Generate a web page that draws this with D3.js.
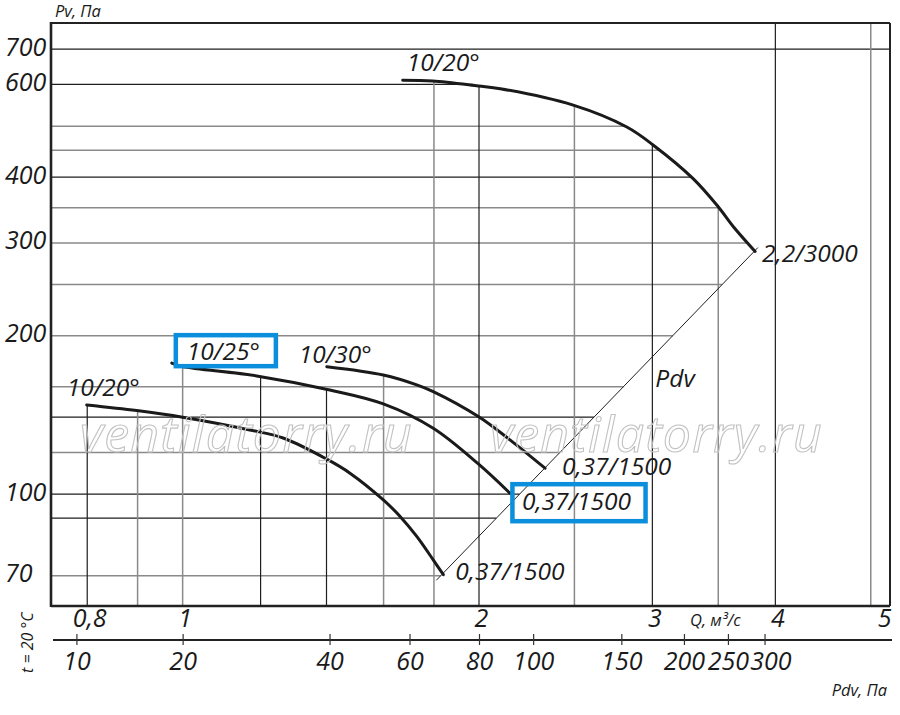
<!DOCTYPE html>
<html>
<head>
<meta charset="utf-8">
<script src="https://cdn.jsdelivr.net/npm/d3@7"></script>
<style>
  body { margin: 0; background: #fff; }
  text { font-family: "Open Sans", sans-serif; font-style: italic; fill: #1a1a1a; }
  .wm { fill: none; stroke: #c2c2c2; stroke-width: 1.1; font-size: 50px; letter-spacing: 1.2px; }
</style>
</head>
<body>
<div class="chart"></div>
<script>
var svgWidth = 900;
var svgHeight = 715;

var margin = { top: 23, right: 10, bottom: 109, left: 51 };
var width = svgWidth - margin.left - margin.right;
var height = svgHeight - margin.top - margin.bottom;

var numFont = "25px";
var labelFont = "24.5px";

// ---- data ----
var qDomain = [0.735, 5.23];   // Q, m3/s (log)
var pDomain = [61.3, 785];     // Pv, Pa (log)

var qTicks = [0.8, 1, 2, 3, 4, 5];
var qTickLabels = ["0,8", "1", "2", "3", "4", "5"];
var qGrid = [0.8, 0.9, 1, 1.2, 1.4, 1.6, 1.8, 2, 2.5, 3, 3.5, 4, 5];
var qGridDark = [0.8, 1.2, 1.4, 2, 3, 4];

var pTicks = [70, 100, 200, 300, 400, 600, 700];
var pGrid = [70, 90, 100, 120, 140, 160, 200, 250, 300, 350, 400, 450, 500, 600, 700];
var pGridDark = [90, 100, 140, 400, 600, 700];

// dynamic pressure scale under the Q axis: each Pdv value and the Q it sits at
var pdvTicks = [10, 20, 40, 60, 80, 100, 150, 200, 250, 300];
var pdvTickQ = [0.78, 1.0, 1.41, 1.70, 2.0, 2.27, 2.79, 3.23, 3.58, 3.90];

// fan curves
var bigQ = [1.673, 1.795, 1.997, 2.102, 2.493, 2.826, 3.007, 3.302, 3.501, 3.626, 3.815];
var bigP = [611, 609, 596, 589, 548, 498, 460, 397, 351, 322, 289];
var lowQ = [0.799, 0.898, 1.0, 1.170, 1.265, 1.401, 1.479, 1.599, 1.663, 1.729, 1.797, 1.840];
var lowP = [147.7, 144.1, 140.0, 132.4, 127.8, 116.5, 109.6, 97.5, 90.7, 83.1, 75.0, 70.3];
var midQ = [0.975, 1.0, 1.189, 1.411, 1.599, 1.797, 1.997, 2.150];
var midP = [177.3, 174.7, 167.7, 157.7, 148.4, 133.4, 114.1, 100.4];
var hiQ = [1.401, 1.599, 1.729, 1.797, 1.997, 2.150, 2.334];
var hiP = [174.6, 168.4, 161.3, 156.6, 140.4, 126.8, 112.0];

var angleLabels = ["10/20°", "10/20°", "10/25°", "10/30°"];
var motorLabels = ["2,2/3000", "0,37/1500", "0,37/1500", "0,37/1500"];

// Pdv line
var pdvLineQ = [1.81, 3.84];
var pdvLineP = [68.6, 294];

var curves = [
  { q: bigQ, p: bigP, name: angleLabels[0], motor: motorLabels[0], nameOff: [4, -9], motorOff: [7, 11] },
  { q: lowQ, p: lowP, name: angleLabels[1], motor: motorLabels[1], nameOff: [-20, -9], motorOff: [12, 5] },
  { q: midQ, p: midP, name: angleLabels[2], motor: motorLabels[2], nameOff: [15, -3], motorOff: [12, 17], boxName: true, boxMotor: true },
  { q: hiQ, p: hiP, name: angleLabels[3], motor: motorLabels[3], nameOff: [-28, -4], motorOff: [17, 7] }
];

var svg = d3.select(".chart")
  .append("svg")
  .attr("width", svgWidth)
  .attr("height", svgHeight);

var chartGroup = svg.append("g")
  .attr("transform", `translate(${margin.left}, ${margin.top})`);

var x = d3.scaleLog().domain(qDomain).range([0, width]);
var y = d3.scaleLog().domain(pDomain).range([height, 0]);

// log-log interpolation on a sampled curve, null when outside
function interpLog(xs, ys, v) {
  for (var i = 0; i < xs.length - 1; i++) {
    var a = xs[i], b = xs[i + 1];
    if (v >= Math.min(a, b) - 1e-9 && v <= Math.max(a, b) + 1e-9) {
      var t = (Math.log(v) - Math.log(a)) / (Math.log(b) - Math.log(a));
      return Math.exp(Math.log(ys[i]) + t * (Math.log(ys[i + 1]) - Math.log(ys[i])));
    }
  }
  return null;
}

// where a horizontal grid line stops on the right
function rightEdge(p) {
  if (p > d3.max(bigP)) return qDomain[1];
  if (p >= d3.min(bigP)) return interpLog(bigP, bigQ, p);
  return interpLog(pdvLineP, pdvLineQ, p) || qDomain[0];
}

// where a vertical grid line stops at the top
function topEdge(q) {
  var best = null;
  curves.forEach(function(c) {
    var p = interpLog(c.q, c.p, q);
    if (p != null && (best == null || p > best)) best = p;
  });
  return best == null ? pDomain[1] : best;
}

// ---- grid ----
var grid = chartGroup.append("g");
grid.selectAll(".hgrid")
  .data(pGrid)
  .enter()
  .append("line")
  .attr("x1", 0)
  .attr("x2", d => x(rightEdge(d)))
  .attr("y1", d => y(d))
  .attr("y2", d => y(d))
  .attr("stroke", d => pGridDark.includes(d) ? "#1e1e1e" : "#8a8a8a")
  .attr("stroke-width", d => pGridDark.includes(d) ? 1.2 : 1.5);

grid.selectAll(".vgrid")
  .data(qGrid)
  .enter()
  .append("line")
  .attr("x1", d => x(d))
  .attr("x2", d => x(d))
  .attr("y1", height)
  .attr("y2", d => y(topEdge(d)))
  .attr("stroke", d => qGridDark.includes(d) ? "#1e1e1e" : "#8a8a8a")
  .attr("stroke-width", d => qGridDark.includes(d) ? 1.2 : 1.5);

// watermark
svg.append("text").attr("class", "wm").attr("x", 80).attr("y", 452).text("ventilatorry.ru");
svg.append("text").attr("class", "wm").attr("x", 490).attr("y", 452).text("ventilatorry.ru");

// ---- Pdv line ----
chartGroup.append("line")
  .attr("x1", x(pdvLineQ[0]))
  .attr("y1", y(pdvLineP[0]))
  .attr("x2", x(pdvLineQ[1]))
  .attr("y2", y(pdvLineP[1]))
  .attr("stroke", "#1e1e1e")
  .attr("stroke-width", 1);

chartGroup.append("text")
  .attr("x", x(3.0) + 3)
  .attr("y", y(160))
  .style("font-size", labelFont)
  .text("Pdv");

// ---- fan curves ----
var line = d3.line()
  .x(d => x(d[0]))
  .y(d => y(d[1]))
  .curve(d3.curveCatmullRom.alpha(0.5));

curves.forEach(function(c) {
  var pts = c.q.map((q, i) => [q, c.p[i]]);
  chartGroup.append("path")
    .attr("d", line(pts))
    .attr("fill", "none")
    .attr("stroke", "#1a1a1a")
    .attr("stroke-width", 3)
    .attr("stroke-linecap", "round");

  var first = pts[0], last = pts[pts.length - 1];
  var t1 = chartGroup.append("text")
    .attr("x", x(first[0]) + c.nameOff[0])
    .attr("y", y(first[1]) + c.nameOff[1])
    .style("font-size", labelFont)
    .text(c.name);
  var t2 = chartGroup.append("text")
    .attr("x", x(last[0]) + c.motorOff[0])
    .attr("y", y(last[1]) + c.motorOff[1])
    .style("font-size", labelFont)
    .text(c.motor);
  if (c.boxName) boxAround(t1, [11, -1, 16, -1]);
  if (c.boxMotor) boxAround(t2, [9.5, 0, 14, 4]);
});

// blue highlight boxes around a label: pad [left, top, right, bottom]
function boxAround(t, pad) {
  var b = t.node().getBBox();
  chartGroup.append("rect")
    .attr("x", b.x - pad[0])
    .attr("y", b.y - pad[1])
    .attr("width", b.width + pad[0] + pad[2])
    .attr("height", b.height + pad[1] + pad[3])
    .attr("fill", "none")
    .attr("stroke", "#0b8edb")
    .attr("stroke-width", 4.5);
}

// ---- frame ----
chartGroup.append("line").attr("x1", 0).attr("x2", width).attr("y1", 0).attr("y2", 0)
  .attr("stroke", "#222").attr("stroke-width", 2);
chartGroup.append("line").attr("x1", width).attr("x2", width).attr("y1", 0).attr("y2", height)
  .attr("stroke", "#222").attr("stroke-width", 2);
chartGroup.append("line").attr("x1", 0).attr("x2", 0).attr("y1", -1).attr("y2", height + 1)
  .attr("stroke", "#222").attr("stroke-width", 2.6);
chartGroup.append("line").attr("x1", 0).attr("x2", width).attr("y1", height).attr("y2", height)
  .attr("stroke", "#222").attr("stroke-width", 2.6);

// ---- axes ----
var bottomAxis = d3.axisBottom(x)
  .tickValues(qTicks)
  .tickFormat((d, i) => qTickLabels[i])
  .tickSize(0);
var xAxis = chartGroup.append("g")
  .attr("transform", `translate(0, ${height})`)
  .call(bottomAxis);
xAxis.select(".domain").remove();
xAxis.selectAll("text")
  .attr("y", 21)
  .attr("dy", null)
  .attr("dx", 2)
  .style("font-size", numFont)
  .attr("fill", "#1a1a1a");
xAxis.selectAll(".tick").filter((d, i) => i === qTicks.length - 1)
  .select("text").attr("text-anchor", "end").attr("dx", width - x(qTicks[qTicks.length - 1]) + 1);

var leftAxis = d3.axisLeft(y)
  .tickValues(pTicks)
  .tickFormat(d3.format("d"))
  .tickSize(0);
var yAxis = chartGroup.append("g").call(leftAxis);
yAxis.select(".domain").remove();
yAxis.selectAll("text")
  .attr("x", 5 - margin.left)
  .attr("text-anchor", "start")
  .attr("dy", null)
  .attr("y", 6)
  .style("font-size", numFont)
  .attr("fill", "#1a1a1a");

// Pdv scale: Pdv value -> Q position
var pdvScale = d3.scaleLog().domain(pdvTicks).range(pdvTickQ.map(q => x(q)));
var pdvAxisY = height + 34;
chartGroup.append("line")
  .attr("x1", 2).attr("x2", width + 2)
  .attr("y1", pdvAxisY).attr("y2", pdvAxisY)
  .attr("stroke", "#222").attr("stroke-width", 1.8);
var pdvAxis = d3.axisBottom(pdvScale)
  .tickValues(pdvTicks)
  .tickFormat(d3.format("d"))
  .tickSize(11);
var pAxis = chartGroup.append("g")
  .attr("transform", `translate(0, ${pdvAxisY - 6})`)
  .call(pdvAxis);
pAxis.select(".domain").remove();
pAxis.selectAll("line").attr("stroke", "#333").attr("stroke-width", 1.2);
pAxis.selectAll("text")
  .attr("y", 36)
  .attr("dy", null)
  .style("font-size", numFont)
  .attr("fill", "#1a1a1a");

// push crowded Pdv labels apart, left to right
var prevRight = -Infinity;
pAxis.selectAll(".tick").each(function(d) {
  var t = d3.select(this).select("text");
  var b = t.node().getBBox();
  var left = pdvScale(d) + b.x;
  var shift = Math.max(0, prevRight + 1 - left);
  t.attr("dx", shift);
  prevRight = left + shift + b.width;
});

// ---- axis titles ----
svg.append("text").attr("x", 55).attr("y", 17).style("font-size", "16.5px").text("Pv, Па");
svg.append("text").attr("x", 690).attr("y", 626).style("font-size", "16.5px").text("Q, м³/с");
svg.append("text").attr("x", 887).attr("y", 696).attr("text-anchor", "end").style("font-size", "16.5px").text("Pdv, Па");
svg.append("text")
  .attr("transform", "translate(33, 673) rotate(-90)")
  .style("font-size", "16px")
  .text("t = 20 °C");
</script>
</body>
</html>
